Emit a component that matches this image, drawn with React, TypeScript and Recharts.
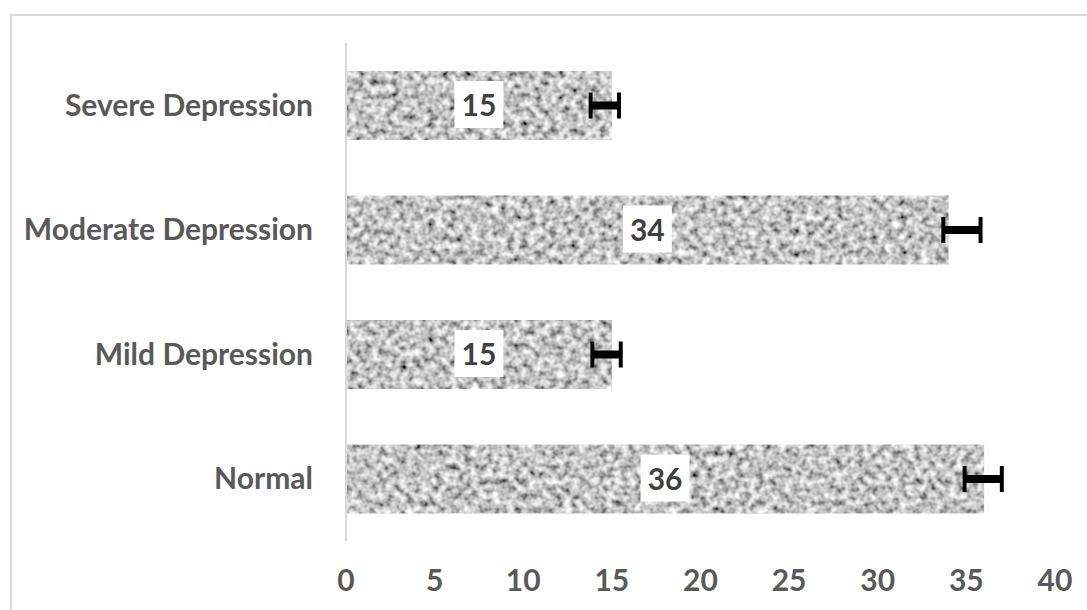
import React from 'react';
import { BarChart, Bar, XAxis, YAxis, ErrorBar, LabelList } from 'recharts';

const categories = ['Severe Depression', 'Moderate Depression', 'Mild Depression', 'Normal'];
const values = [15, 34, 15, 36];
const errLow = [1.2, 0.3, 1.1, 1.1];
const errHigh = [0.4, 1.8, 0.5, 1.0];
const xTicks = [0, 5, 10, 15, 20, 25, 30, 35, 40];

const data = categories.map((name, i) => ({
  name,
  value: values[i],
  err: [errLow[i], errHigh[i]],
}));

const FONT = 'Lato, "Open Sans", sans-serif';
const TEXT_GREY = '#595959';

// grainy grey fill, like the picture texture in the original
const TexturedBar = (props: any) => {
  const { x, y, width, height } = props;
  return <rect x={x} y={y} width={width} height={height} fill="#a6a6a6" filter="url(#grainy)" />;
};

const ValueLabel = (props: any) => {
  const { x, y, width, height, value } = props;
  const cx = x + width / 2;
  const cy = y + height / 2;
  return (
    <g>
      <rect x={cx - 24.5} y={cy - 24.5} width={49} height={47} fill="#ffffff" />
      <text
        x={cx}
        y={cy}
        dy="0.36em"
        textAnchor="middle"
        fontFamily={FONT}
        fontWeight={700}
        fontSize={30}
        fill="#404040"
      >
        {value}
      </text>
    </g>
  );
};

export default function App() {
  return (
    <div style={{ position: 'absolute', left: 0, top: 0, width: 1087, height: 610, overflow: 'hidden', background: '#fff' }}>
      <svg width={0} height={0} style={{ position: 'absolute' }}>
        <defs>
          <filter id="grainy" x="0" y="0" width="100%" height="100%">
            <feTurbulence type="fractalNoise" baseFrequency="0.14" numOctaves={2} seed={7} result="noise" />
            <feColorMatrix
              in="noise"
              type="matrix"
              values="1.5 0 0 0 -0.2  1.5 0 0 0 -0.2  1.5 0 0 0 -0.2  0 0 0 0 1"
              result="grey"
            />
            <feComposite in="grey" in2="SourceGraphic" operator="in" />
          </filter>
        </defs>
      </svg>
      <div
        style={{
          position: 'absolute',
          left: 10,
          top: 14,
          width: 1100,
          height: 620,
          border: '2px solid #d9d9d9',
        }}
      />
      <div style={{ position: 'absolute', left: 0, top: 0 }}>
        <BarChart
          width={1087}
          height={610}
          data={data}
          layout="vertical"
          margin={{ top: 43, right: 32, bottom: 0, left: 0 }}
        >
          <XAxis
            type="number"
            domain={[0, 40]}
            ticks={xTicks}
            axisLine={false}
            tickLine={false}
            tickSize={0}
            tickMargin={29}
            height={69}
            tick={{ fontFamily: FONT, fontWeight: 700, fontSize: 30, fill: TEXT_GREY }}
          />
          <YAxis
            type="category"
            dataKey="name"
            width={346}
            axisLine={{ stroke: '#d9d9d9', strokeWidth: 2 }}
            tickLine={false}
            tickSize={0}
            tickMargin={33}
            tick={{ fontFamily: FONT, fontWeight: 700, fontSize: 30, fill: TEXT_GREY }}
          />
          <Bar dataKey="value" barSize={69} shape={<TexturedBar />} isAnimationActive={false}>
            <LabelList dataKey="value" content={<ValueLabel />} />
            {/* thick main stroke, then thin end caps */}
            <ErrorBar dataKey="err" direction="x" width={0} strokeWidth={8} stroke="#000000" isAnimationActive={false} />
            <ErrorBar dataKey="err" direction="x" width={13} strokeWidth={4} stroke="#000000" isAnimationActive={false} />
          </Bar>
        </BarChart>
      </div>
    </div>
  );
}
